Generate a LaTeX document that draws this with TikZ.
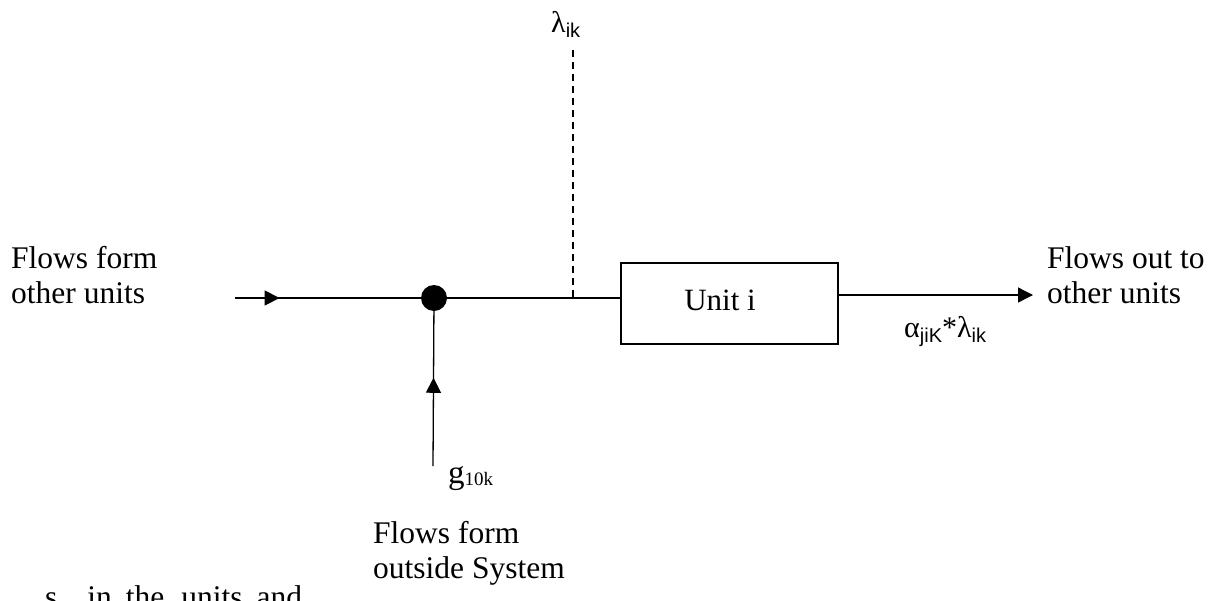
\documentclass[tikz,border=0pt]{standalone}
\usepackage{fontspec}
\setmainfont{Liberation Serif}
\newfontfamily\subfont{Liberation Sans}
\usetikzlibrary{arrows.meta,decorations.markings}
\newcommand{\sbs}[1]{\raisebox{-5pt}{\subfont\fontsize{20}{23}\selectfont #1}}
\tikzset{
  flow/.style={line width=1.3pt},
  tip/.style={-{Triangle[length=15pt,width=15pt]}},
  bigtext/.style={font=\fontsize{31.5}{35}\selectfont, align=left, inner sep=0pt},
  greektext/.style={font=\fontsize{30}{33}\selectfont, inner sep=0pt},
  unitbox/.style={draw, line width=1.3pt, minimum width=217pt, minimum height=81pt, inner sep=0pt},
  midtip/.style={postaction={decorate}, decoration={markings,
      mark=at position #1 with {\arrow{Triangle[length=15pt,width=15pt]}}}}
}
\begin{document}
\begin{tikzpicture}[x=1pt,y=-1pt]
\useasboundingbox (0,0) rectangle (1221,600);
\clip (0,0) rectangle (1221,600);

% junction and the unit
\node[circle, fill=black, minimum size=26pt, inner sep=0pt] (dot) at (434,298) {};
\node[unitbox] (unit) at (729.5,303.5) {};
\node[font=\fontsize{31}{34}\selectfont, inner sep=0pt, anchor=base] (unitlbl) at (720,310) {Unit i};

% incoming flow from other units
\coordinate (inL) at (235,298);
\draw[flow, midtip=0.24] (inL) -- (dot);
\draw[flow] (dot) -- (unit.west |- dot);

% flow from outside the system
\coordinate (gin) at (433,466);
\draw[flow, midtip=0.57] (gin) -- (dot);

% dashed lambda tap
\coordinate (lamtop) at (573,50);
\coordinate (lambot) at (573,298);
\draw[line width=1.1pt, dash pattern=on 7pt off 5pt] (lamtop) -- (lambot);

% outgoing flow
\coordinate (outR) at (1033,295);
\draw[flow, tip] (unit.east |- outR) -- (outR);

% labels
\node[greektext, anchor=base west] (lam) at (551,32) {λ\sbs{ik}};
\node[greektext, anchor=base west] (alpha) at (904,337) {α\sbs{jiK}*λ\sbs{ik}};
\node[font=\fontsize{33}{36}\selectfont, inner sep=0pt, anchor=base west] (g) at (448,483) {g\raisebox{-2pt}{\fontsize{19}{22}\selectfont 10k}};

\node[bigtext, anchor=base west] (fin) at (11,303) {Flows form\\other units};
\node[bigtext, anchor=base west] (fout) at (1047,303) {Flows out to\\other units};
\node[bigtext, anchor=base west] (fsys) at (373,578) {Flows form\\outside System};
\node[bigtext, anchor=base west] (cut) at (45,607) {s\hspace{30pt}in\hspace{14pt}the\hspace{17pt}units\hspace{14pt}and};
\end{tikzpicture}
\end{document}
